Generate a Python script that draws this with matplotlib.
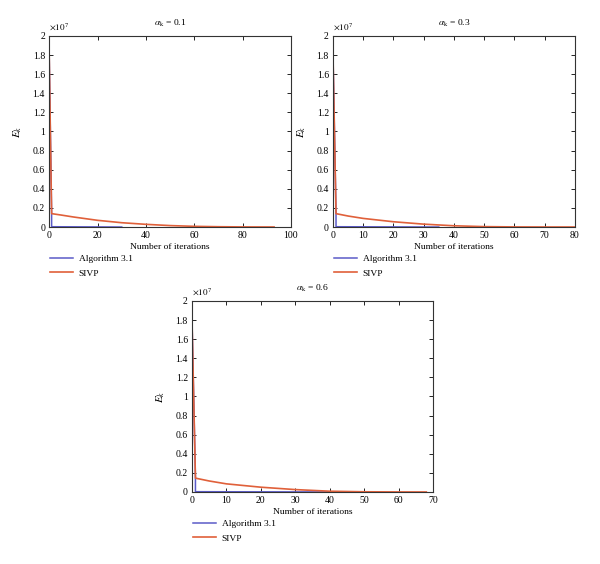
import numpy as np
import matplotlib
matplotlib.use('Agg')
import matplotlib.pyplot as plt
from matplotlib.ticker import FuncFormatter

plt.rcParams['font.family'] = ['Liberation Serif', 'DejaVu Serif']
plt.rcParams['mathtext.fontset'] = 'stix'

# values, y in units of 1e7
titles = [r'$\alpha_{\rm k}$ = 0.1', r'$\alpha_{\rm k}$ = 0.3', r'$\alpha_{\rm k}$ = 0.6']
xmax = [100, 80, 70]
xstep = [20, 10, 10]

alg_x = [[0, 1, 1, 30], [0, 1, 1, 35], [0, 1, 1, 43]]
alg_y = [[1.8, 0.15, 0.003, 0.0], [1.8, 0.15, 0.003, 0.0], [1.8, 0.15, 0.003, 0.0]]

sivp_x = [[0, 1, 5, 10, 20, 30, 40, 50, 60, 70, 80, 93],
          [0, 1, 5, 10, 20, 30, 40, 50, 60, 70, 80],
          [0, 1, 5, 10, 20, 30, 40, 50, 60, 68]]
sivp_y = [[1.8, 0.14, 0.125, 0.105, 0.07, 0.045, 0.028, 0.015, 0.007, 0.003, 0.001, 0.0003],
          [1.8, 0.14, 0.115, 0.09, 0.055, 0.03, 0.013, 0.004, 0.001, 0.0003, 0.0001],
          [1.8, 0.145, 0.115, 0.085, 0.05, 0.025, 0.008, 0.002, 0.0005, 0.0001]]

BLUE = '#5b5bc8'
RED = '#e0603a'

fig = plt.figure(figsize=(6, 5.64), dpi=100)
positions = [[0.082, 0.5975, 0.403, 0.3387],
             [0.555, 0.5975, 0.403, 0.3387],
             [0.32, 0.1277, 0.402, 0.3387]]

for i in range(3):
    ax = fig.add_axes(positions[i])
    ax.plot(alg_x[i], alg_y[i], color=BLUE, lw=1.1, label='Algorithm 3.1')
    ax.plot(sivp_x[i], sivp_y[i], color=RED, lw=1.2, label='SIVP')
    ax.set_xlim(0, xmax[i])
    ax.set_ylim(0, 2)
    ax.set_xticks(np.arange(0, xmax[i] + 1, xstep[i]))
    ax.set_yticks(np.arange(0, 2.01, 0.2))
    ax.yaxis.set_major_formatter(FuncFormatter(lambda v, p: f'{v:g}'))
    ax.tick_params(direction='in', top=True, right=True, length=3, width=0.6,
                   labelsize=7, pad=3)
    for s in ax.spines.values():
        s.set_linewidth(0.8)
        s.set_color('#333333')
    ax.set_title(titles[i], fontsize=6.8, pad=7)
    ax.set_xlabel('Number of iterations', fontsize=6.8, labelpad=2)
    ax.set_ylabel(r'$E_k$', fontsize=8, labelpad=6)
    ax.text(0.0, 1.02, r'$\times 10^7$', transform=ax.transAxes, fontsize=6.6,
            ha='left', va='bottom')
    ax.legend(loc='upper left', bbox_to_anchor=(0.005, -0.145), frameon=False,
              borderpad=0, borderaxespad=0, handlelength=2.4, handletextpad=0.6,
              labelspacing=0.6, fontsize=6.8)

fig.savefig('out.png', dpi=100)
